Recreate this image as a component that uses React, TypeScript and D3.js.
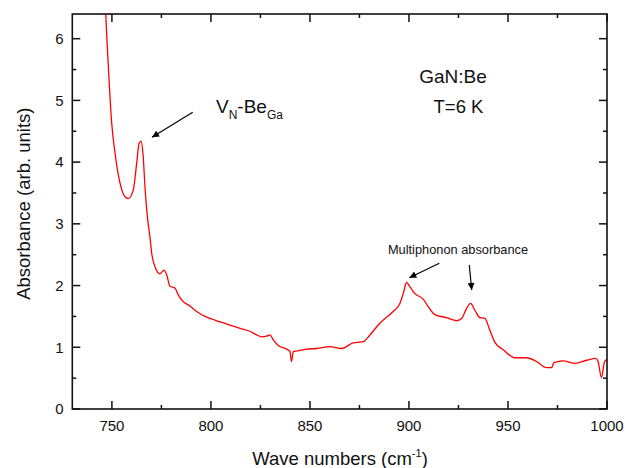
import React from "react";
import * as d3 from "d3";

const waveNumbers = [746, 746.9, 748.2, 749.9, 751.6, 754.1, 756.6, 758.3, 760.8, 762.5, 763.7, 764.7, 765.8, 766.7, 768.1, 769.2, 770.1, 771.7, 774.3, 776.3, 777.7, 779.3, 781.8, 783.5, 786.0, 789.4, 792.8, 797.0, 801.2, 804.6, 809.6, 815.5, 819.7, 823.1, 825.6, 828.1, 829.8, 831.5, 834.0, 838.2, 839.9, 840.7, 841.6, 843.3, 848.3, 853.4, 860.1, 866.0, 871.8, 876.9, 880.3, 885.3, 892.0, 895.4, 897.1, 898.8, 900.5, 903.0, 907.2, 909.7, 913.1, 919.0, 924.0, 926.6, 929.1, 931.1, 933.3, 935.8, 938.3, 940.8, 943.4, 947.6, 953.5, 959.4, 964.4, 969.5, 972.0, 973.2, 977.9, 983.8, 989.7, 994.4, 995.5, 997.2, 998.8, 1000.0];
const absorbance = [7.2, 6.4, 5.55, 4.63, 4.14, 3.66, 3.44, 3.41, 3.55, 3.98, 4.30, 4.34, 4.09, 3.60, 3.06, 2.79, 2.52, 2.31, 2.19, 2.25, 2.17, 1.99, 1.96, 1.85, 1.74, 1.67, 1.58, 1.50, 1.45, 1.41, 1.36, 1.30, 1.26, 1.20, 1.17, 1.18, 1.20, 1.12, 1.03, 0.97, 0.93, 0.77, 0.93, 0.94, 0.97, 0.98, 1.01, 0.98, 1.07, 1.09, 1.20, 1.39, 1.58, 1.71, 1.87, 2.05, 1.98, 1.87, 1.78, 1.66, 1.53, 1.48, 1.43, 1.47, 1.63, 1.71, 1.60, 1.48, 1.47, 1.28, 1.08, 0.96, 0.83, 0.83, 0.77, 0.67, 0.67, 0.75, 0.78, 0.74, 0.79, 0.82, 0.77, 0.51, 0.77, 0.80];

const xMajorTicks = [750, 800, 850, 900, 950, 1000];
const xMinorTicks = [775, 825, 875, 925, 975];
const yMajorTicks = [0, 1, 2, 3, 4, 5, 6];
const yMinorTicks = [0.5, 1.5, 2.5, 3.5, 4.5, 5.5];

const W = 625, H = 468;
const L = 72.3, R = 607, T = 14, B = 409;
const FONT = "'Liberation Sans', Arial, Helvetica, sans-serif";

export default function App() {
  const x = d3.scaleLinear().domain([730, 1000]).range([L, R]);
  const y = d3.scaleLinear().domain([0, 6.4]).range([B, T]);
  const data = waveNumbers.map((v, i) => [v, absorbance[i]] as [number, number]);
  const line = d3.line<[number, number]>().x(d => x(d[0])).y(d => y(d[1])).curve(d3.curveMonotoneX);
  const major = 8, minor = 4;
  return (
    <svg width={W} height={H} style={{ position: "absolute", left: 0, top: 0, background: "#fff" }} fontFamily={FONT}>
      <defs>
        <clipPath id="plot"><rect x={L} y={T} width={R - L} height={B - T} /></clipPath>
        <marker id="ah" viewBox="0 0 10 10" refX="10" refY="5" markerWidth="10" markerHeight="7" markerUnits="userSpaceOnUse" orient="auto">
          <path d="M0,0 L10,5 L0,10 z" fill="#000" />
        </marker>
      </defs>
      <rect x={0} y={0} width={W} height={H} fill="#fff" />
      <path d={line(data) || ""} fill="none" stroke="#ff0000" strokeWidth={1.3} clipPath="url(#plot)" />
      <rect x={L} y={T} width={R - L} height={B - T} fill="none" stroke="#111" strokeWidth={1.6} />
      {xMajorTicks.map(t => (
        <g key={"xM" + t}>
          <line x1={x(t)} x2={x(t)} y1={B} y2={B - major} stroke="#111" strokeWidth={1.5} />
          <line x1={x(t)} x2={x(t)} y1={T} y2={T + major} stroke="#111" strokeWidth={1.5} />
          <text x={x(t)} y={431} fontSize={15} textAnchor="middle" fill="#111">{t}</text>
        </g>
      ))}
      {xMinorTicks.map(t => (
        <g key={"xm" + t}>
          <line x1={x(t)} x2={x(t)} y1={B} y2={B - minor} stroke="#111" strokeWidth={1.5} />
          <line x1={x(t)} x2={x(t)} y1={T} y2={T + minor} stroke="#111" strokeWidth={1.5} />
        </g>
      ))}
      {yMajorTicks.map(t => (
        <g key={"yM" + t}>
          <line x1={L} x2={L + major} y1={y(t)} y2={y(t)} stroke="#111" strokeWidth={1.5} />
          <line x1={R} x2={R - major} y1={y(t)} y2={y(t)} stroke="#111" strokeWidth={1.5} />
          <text x={63.5} y={y(t) + 5.3} fontSize={15} textAnchor="end" fill="#111">{t}</text>
        </g>
      ))}
      {yMinorTicks.map(t => (
        <g key={"ym" + t}>
          <line x1={L} x2={L + minor} y1={y(t)} y2={y(t)} stroke="#111" strokeWidth={1.5} />
          <line x1={R} x2={R - minor} y1={y(t)} y2={y(t)} stroke="#111" strokeWidth={1.5} />
        </g>
      ))}
      <text x={340} y={465} fontSize={18.5} textAnchor="middle" fill="#111">
        Wave numbers (cm<tspan fontSize={11} dy={-8}>-1</tspan><tspan dy={8}>)</tspan>
      </text>
      <text transform={`translate(29.5,203.7) rotate(-90)`} fontSize={18.5} textAnchor="middle" fill="#111">Absorbance (arb. units)</text>
      <text x={453} y={83} fontSize={19} textAnchor="middle" fill="#111">GaN:Be</text>
      <text x={458.5} y={112.5} fontSize={18.5} textAnchor="middle" fill="#111">T=6 K</text>
      <text x={216} y={113.3} fontSize={19} fill="#111">
        V<tspan fontSize={12} dy={6}>N</tspan><tspan dy={-6}>-Be</tspan><tspan fontSize={12} dy={6}>Ga</tspan>
      </text>
      <text x={458} y={254} fontSize={12.8} textAnchor="middle" fill="#111">Multiphonon absorbance</text>
      <line x1={192.7} y1={112.3} x2={152} y2={137.3} stroke="#000" strokeWidth={1.2} markerEnd="url(#ah)" />
      <line x1={439.3} y1={263.3} x2={409.3} y2={277.7} stroke="#000" strokeWidth={1.2} markerEnd="url(#ah)" />
      <line x1={469.3} y1={265} x2={471.7} y2={290} stroke="#000" strokeWidth={1.2} markerEnd="url(#ah)" />
    </svg>
  );
}
